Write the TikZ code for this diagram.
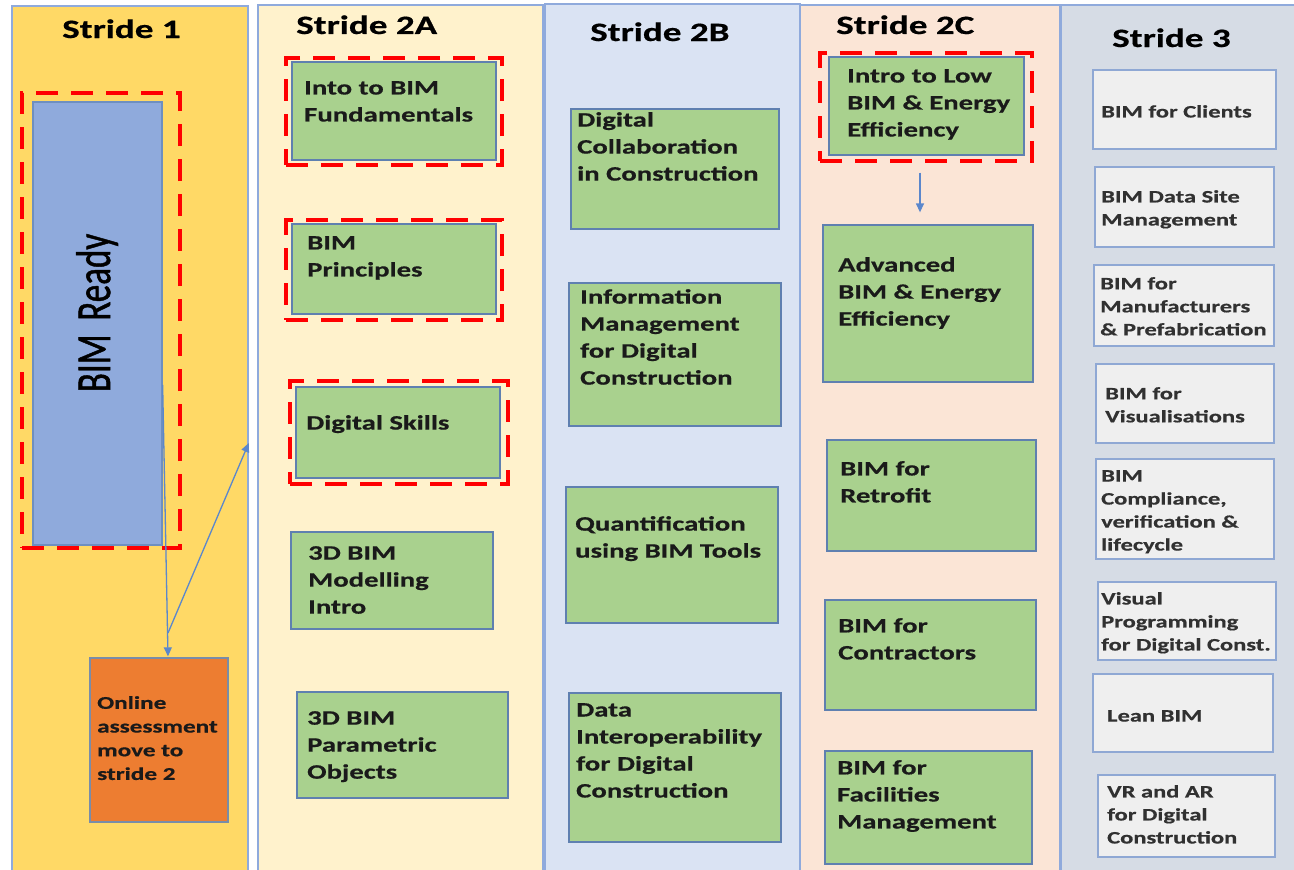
\documentclass[tikz,border=0pt]{standalone}
\usepackage{fontspec}
\usepackage{graphicx}
\newfontfamily\wf[FakeStretch=1.4,BoldFeatures={FakeBold=0.6}]{Carlito}
\newfontfamily\nf[FakeBold=1.2]{Carlito}
\usetikzlibrary{arrows.meta,fit}
\definecolor{pone}{HTML}{FFD966}
\definecolor{ptwoa}{HTML}{FFF2CC}
\definecolor{ptwob}{HTML}{DAE3F3}
\definecolor{ptwoc}{HTML}{FBE5D6}
\definecolor{pthree}{HTML}{D6DCE5}
\definecolor{pborder}{HTML}{8FAADC}
\definecolor{gfill}{HTML}{A9D18E}
\definecolor{gborder}{HTML}{5F80B0}
\definecolor{bfill}{HTML}{8FAADC}
\definecolor{bborder}{HTML}{6E8FC0}
\definecolor{ofill}{HTML}{ED7D31}
\definecolor{oborder}{HTML}{7A8CA8}
\definecolor{grfill}{HTML}{EFEFEF}
\definecolor{grborder}{HTML}{8FA8D4}
\definecolor{arrc}{HTML}{5B87CC}
\definecolor{tcol}{HTML}{1A1A1A}
\begin{document}
\begin{tikzpicture}[x=1pt,y=-1pt,
  panel/.style={draw=pborder, line width=1.5pt, inner sep=0pt},
  gbox/.style={draw=gborder, fill=gfill, line width=1.3pt, inner sep=0pt},
  graybox/.style={draw=grborder, fill=grfill, line width=1.8pt, inner sep=0pt},
  rdash/.style={draw=red, line width=4.5pt, dash pattern=on 22pt off 13pt, inner sep=0pt},
  title/.style={font=\wf\bfseries\fontsize{26.5}{30}\selectfont, inner sep=0pt, text=black, anchor=base west},
  txt/.style={font=\wf\bfseries\fontsize{20.5}{27}\selectfont, align=left, inner sep=0pt, anchor=north west, text=tcol},
  stxt/.style={font=\wf\bfseries\fontsize{17.5}{23}\selectfont, align=left, inner sep=0pt, anchor=north west, text=tcol!90!white},
  otxt/.style={font=\wf\bfseries\fontsize{18}{23.7}\selectfont, align=left, inner sep=0pt, anchor=north west, text=tcol},
  arr/.style={draw=arrc, line width=1.3pt, -{Triangle[length=9pt,width=8pt]}}
]
\useasboundingbox (0,0) rectangle (1294,870);
\fill[white] (0,0) rectangle (1294,870);

% panels
\node[panel, fill=pone,   fit={(12,6)(248,872)}]   (p1) {};
\node[panel, fill=ptwoa,  fit={(258,5)(543,872)}]  (p2a) {};
\node[panel, fill=ptwob,  fit={(545,4)(800,872)}]  (p2b) {};
\node[panel, fill=ptwoc,  fit={(800,5)(1060,872)}] (p2c) {};
\node[panel, fill=pthree, fit={(1061,5)(1296,872)}] (p3) {};

% titles
\node[title] (h1)  at (62,38)   {Stride 1};
\node[title] (h2a) at (296,34)  {Stride 2A};
\node[title] (h2b) at (590,41)  {Stride 2B};
\node[title] (h2c) at (836,34)  {Stride 2C};
\node[title] (h3)  at (1112,47) {Stride 3};

% Stride 1
\node[rdash, fit={(22,93)(180,548)}] (d1) {};
\node[draw=bborder, fill=bfill, line width=1.3pt, inner sep=0pt, fit={(33,102)(162,545)}] (bim) {};
\node[rotate=90, inner sep=0pt, text=black] (bimt) at (97,313)
  {\scalebox{1}[1.4]{\nf\fontsize{35}{40}\selectfont BIM\, Ready}};
\node[draw=oborder, fill=ofill, line width=1.3pt, inner sep=0pt, fit={(90,658)(228,822)}] (online) {};
\node[otxt] (onlinet) at (97,696) {Online\\assessment\\move to\\stride 2};
\coordinate (mid) at (168,633);
\draw[arr] ([yshift=-61.5pt]bim.east) -- ([xshift=9pt,yshift=1pt]online.north);
\draw[arr] (mid) -- ([yshift=-4pt]p1.east);

% Stride 2A
\node[rdash, fit={(286,58)(502,165)}] (da1) {};
\node[gbox, fit={(292,62)(496,160)}] (a1) {};
\node[txt] (a1t) at (304,81) {Into to BIM\\Fundamentals};
\node[rdash, fit={(286,220)(502,320)}] (da2) {};
\node[gbox, fit={(292,224)(496,314)}] (a2) {};
\node[txt] (a2t) at (307,236) {BIM\\Principles};
\node[rdash, fit={(290,381)(508,484)}] (da3) {};
\node[gbox, fit={(296,387)(500,478)}] (a3) {};
\node[txt] (a3t) at (306,415) {Digital Skills};
\node[gbox, fit={(291,532)(493,629)}] (a4) {};
\node[txt] (a4t) at (308,546) {3D BIM\\Modelling\\Intro};
\node[gbox, fit={(297,692)(508,798)}] (a5) {};
\node[txt] (a5t) at (307,711) {3D BIM\\Parametric\\Objects};

% Stride 2B
\node[gbox, fit={(571,109)(779,229)}] (b1) {};
\node[txt] (b1t) at (577,112) {Digital\\Collaboration\\in Construction};
\node[gbox, fit={(569,283)(781,426)}] (b2) {};
\node[txt] (b2t) at (580,289) {Information\\Management\\for Digital\\Construction};
\node[gbox, fit={(566,487)(778,623)}] (b3) {};
\node[txt] (b3t) at (575,516) {Quantification\\using BIM Tools};
\node[gbox, fit={(569,693)(781,842)}] (b4) {};
\node[txt] (b4t) at (576,703) {Data\\Interoperability\\for Digital\\Construction};

% Stride 2C
\node[rdash, fit={(820,53)(1032,161)}] (dc1) {};
\node[gbox, fit={(829,57)(1024,155)}] (c1) {};
\node[txt] (c1t) at (847,69) {Intro to Low\\BIM \& Energy\\Efficiency};
\node[gbox, fit={(823,225)(1033,382)}] (c2) {};
\node[txt] (c2t) at (838,257) {Advanced\\BIM \& Energy\\Efficiency};
\draw[arr] ([xshift=-6.5pt,yshift=-17pt]c1.south) -- ([xshift=-8pt,yshift=12pt]c2.north);
\node[gbox, fit={(827,440)(1036,551)}] (c3) {};
\node[txt] (c3t) at (840,461) {BIM for\\Retrofit};
\node[gbox, fit={(825,600)(1036,710)}] (c4) {};
\node[txt] (c4t) at (838,618) {BIM for\\Contractors};
\node[gbox, fit={(825,751)(1032,864)}] (c5) {};
\node[txt] (c5t) at (837,760) {BIM for\\Facilities\\Management};

% Stride 3
\node[graybox, fit={(1093,70)(1276,149)}] (s1) {};
\node[stxt] (s1t) at (1101,105) {BIM for Clients};
\node[graybox, fit={(1095,167)(1274,247)}] (s2) {};
\node[stxt] (s2t) at (1101,190) {BIM Data Site\\Management};
\node[graybox, fit={(1094,265)(1274,346)}] (s3) {};
\node[stxt] (s3t) at (1100,277) {BIM for\\Manufacturers\\\& Prefabrication};
\node[graybox, fit={(1096,364)(1274,443)}] (s4) {};
\node[stxt] (s4t) at (1105,387) {BIM for\\Visualisations};
\node[graybox, fit={(1096,459)(1274,559)}] (s5) {};
\node[stxt] (s5t) at (1101,470) {BIM\\Compliance,\\verification \&\\lifecycle};
\node[graybox, fit={(1098,582)(1276,660)}] (s6) {};
\node[stxt] (s6t) at (1101,592) {Visual\\Programming\\for Digital Const.};
\node[graybox, fit={(1093,674)(1273,752)}] (s7) {};
\node[stxt] (s7t) at (1107,710) {Lean BIM};
\node[graybox, fit={(1098,775)(1275,857)}] (s8) {};
\node[stxt] (s8t) at (1107,785) {VR and AR\\for Digital\\Construction};
\end{tikzpicture}
\end{document}
